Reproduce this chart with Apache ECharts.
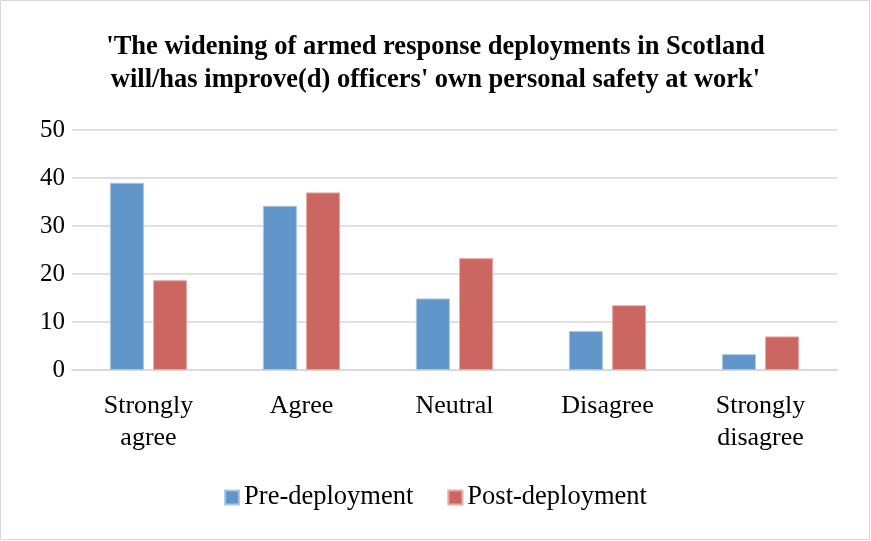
<!DOCTYPE html>
<html>
<head>
<meta charset="utf-8">
<script src="https://cdn.jsdelivr.net/npm/echarts@6/dist/echarts.min.js"></script>
<style>
  html, body { margin: 0; padding: 0; background: #fff; }
  #chart { width: 871px; height: 541px; }
</style>
</head>
<body>
<div id="chart"></div>
<script>
// Survey responses (%) before and after the widening of armed response deployments
const categories = ['Strongly\nagree', 'Agree', 'Neutral', 'Disagree', 'Strongly\ndisagree'];
const preDeployment = [39.0, 34.2, 14.9, 8.1, 3.3];
const postDeployment = [18.7, 37.0, 23.3, 13.5, 7.0];
const seriesNames = ['Pre-deployment', 'Post-deployment'];
const titleLines = [
  "'The widening of armed response deployments in Scotland",
  "will/has improve(d) officers' own personal safety at work'"
];

const serif = '"Liberation Serif", "Times New Roman", serif';
const chart = echarts.init(document.getElementById('chart'));

chart.setOption({
  animation: false,
  backgroundColor: '#ffffff',
  title: {
    text: titleLines.join('\n'),
    left: 'center',
    top: 26,
    textStyle: {
      fontFamily: serif,
      fontWeight: 'bold',
      fontSize: 26.5,
      lineHeight: 33,
      color: '#000'
    }
  },
  graphic: [{
    type: 'rect',
    shape: { x: 0.5, y: 0.5, width: 869, height: 539 },
    style: { fill: 'none', stroke: '#d9d9d9', lineWidth: 1 },
    silent: true
  }],
  legend: {
    data: seriesNames,
    bottom: 25,
    left: 'center',
    itemWidth: 14,
    itemHeight: 14,
    itemGap: 34,
    icon: 'rect',
    textStyle: { fontFamily: serif, fontSize: 26.5, color: '#000' }
  },
  grid: { left: 72, right: 34, top: 130, bottom: 171 },
  xAxis: {
    type: 'category',
    data: categories,
    axisLine: { show: true, lineStyle: { color: '#d9d9d9', width: 2 } },
    axisTick: { show: false },
    axisLabel: {
      fontFamily: serif,
      fontSize: 26,
      lineHeight: 32,
      color: '#000',
      margin: 20,
      interval: 0
    }
  },
  yAxis: {
    type: 'value',
    min: 0,
    max: 50,
    interval: 10,
    axisLine: { show: false },
    axisTick: { show: false },
    splitLine: { lineStyle: { color: '#e0e0e0', width: 2 } },
    axisLabel: {
      fontFamily: serif,
      fontSize: 25,
      color: '#000',
      margin: 7
    }
  },
  series: [
    {
      name: seriesNames[0],
      type: 'bar',
      data: preDeployment,
      barWidth: 34,
      barGap: '27%',
      itemStyle: { color: '#6096C9', borderColor: '#a9c6e4', borderWidth: 1 }
    },
    {
      name: seriesNames[1],
      type: 'bar',
      data: postDeployment,
      barWidth: 34,
      barGap: '27%',
      itemStyle: { color: '#CC6660', borderColor: '#e6a9a5', borderWidth: 1 }
    }
  ]
});
</script>
</body>
</html>
